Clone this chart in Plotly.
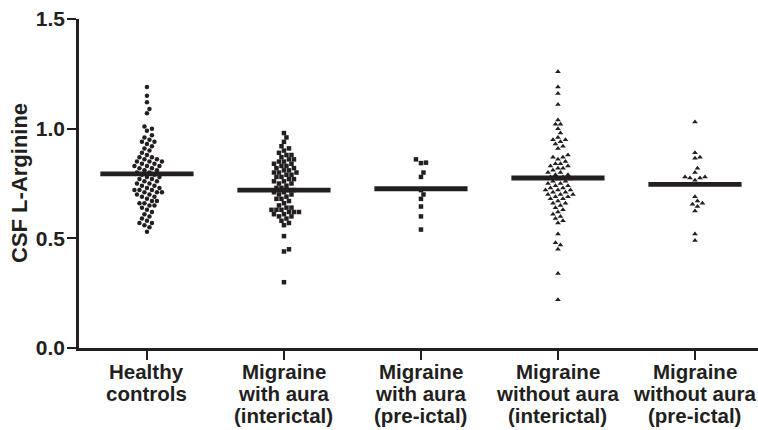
import plotly.graph_objects as go

category_lines = [["Healthy", "controls"],
                  ["Migraine", "with aura", "(interictal)"],
                  ["Migraine", "with aura", "(pre-ictal)"],
                  ["Migraine", "without aura", "(interictal)"],
                  ["Migraine", "without aura", "(pre-ictal)"]]
y_title = "CSF L-Arginine"

healthy = [1.19, 1.15, 1.12, 1.09, 1.07, 1.01, 1.00, 0.99, 0.97, 0.96, 0.95, 0.94, 0.94, 0.93, 0.92,
           0.91, 0.90, 0.89, 0.88, 0.87, 0.87, 0.86, 0.86, 0.85, 0.85, 0.85, 0.84, 0.84, 0.83, 0.83,
           0.83, 0.82, 0.82, 0.81, 0.81, 0.80, 0.80, 0.79, 0.79, 0.78, 0.78, 0.77, 0.77, 0.76, 0.76,
           0.75, 0.75, 0.74, 0.74, 0.73, 0.73, 0.72, 0.72, 0.72, 0.71, 0.71, 0.71, 0.70, 0.70, 0.69,
           0.69, 0.68, 0.67, 0.67, 0.66, 0.66, 0.65, 0.65, 0.64, 0.63, 0.62, 0.61, 0.60, 0.59, 0.58,
           0.57, 0.57, 0.56, 0.55, 0.53]
aura_inter = [0.98, 0.96, 0.94, 0.92, 0.91, 0.90, 0.89, 0.88, 0.88, 0.87, 0.86, 0.86, 0.85, 0.85,
              0.84, 0.84, 0.83, 0.83, 0.82, 0.82, 0.81, 0.81, 0.80, 0.80, 0.80, 0.79, 0.79, 0.78,
              0.78, 0.77, 0.77, 0.76, 0.76, 0.75, 0.75, 0.74, 0.73, 0.73, 0.72, 0.72, 0.71, 0.71,
              0.70, 0.70, 0.69, 0.68, 0.68, 0.67, 0.66, 0.65, 0.64, 0.64, 0.63, 0.63, 0.63, 0.62,
              0.62, 0.62, 0.61, 0.61, 0.60, 0.60, 0.59, 0.58, 0.57, 0.56, 0.51, 0.45, 0.44, 0.30]
aura_pre = [0.86, 0.845, 0.843, 0.80, 0.78, 0.72, 0.70, 0.68, 0.645, 0.60, 0.54]
noaura_inter = [1.26, 1.19, 1.16, 1.11, 1.04, 1.02, 1.02, 1.00, 0.98, 0.96, 0.95, 0.95, 0.94, 0.93,
                0.92, 0.91, 0.88, 0.87, 0.87, 0.86, 0.85, 0.84, 0.84, 0.83, 0.83, 0.82, 0.82, 0.81,
                0.80, 0.80, 0.79, 0.79, 0.78, 0.78, 0.77, 0.77, 0.76, 0.76, 0.75, 0.75, 0.74, 0.74,
                0.73, 0.73, 0.72, 0.72, 0.72, 0.71, 0.71, 0.70, 0.70, 0.70, 0.69, 0.69, 0.68, 0.68,
                0.67, 0.66, 0.66, 0.65, 0.64, 0.63, 0.62, 0.61, 0.60, 0.59, 0.58, 0.57, 0.52, 0.48,
                0.47, 0.45, 0.34, 0.22]
noaura_pre = [1.03, 0.89, 0.87, 0.865, 0.82, 0.80, 0.78, 0.78, 0.775, 0.775, 0.765, 0.69, 0.67,
              0.66, 0.655, 0.645, 0.625, 0.52, 0.49]
group_means = [0.794, 0.72, 0.726, 0.775, 0.746]
y_ticks = [0.0, 0.5, 1.0, 1.5]

groups = [healthy, aura_inter, aura_pre, noaura_inter, noaura_pre]
symbols = ["circle", "square", "square", "triangle-up", "triangle-up"]

W, H = 758, 430
ML, MR, MT, MB = 79, 0, 19, 82
XR = [-0.496, 4.46]
YR = [0, 1.5]
px_per_x = (W - ML - MR) / (XR[1] - XR[0])
px_per_y = (H - MT - MB) / (YR[1] - YR[0])
TXT = "#231f20"
FAM = "Liberation Sans, Arial, sans-serif"


def swarm(vals, center, dmin=5.0):
    placed = []
    xs = {}
    order = sorted(range(len(vals)), key=lambda i: vals[i])
    for i in order:
        yp = vals[i] * px_per_y
        k = 0
        while True:
            cands = [0.0] if k == 0 else [k * dmin * 0.5, -k * dmin * 0.5]
            ok_c = None
            for c in cands:
                if all((c - px) ** 2 + (yp - py) ** 2 >= dmin ** 2 for px, py in placed):
                    ok_c = c
                    break
            if ok_c is not None:
                placed.append((ok_c, yp))
                xs[i] = center + ok_c / px_per_x
                break
            k += 1
    return [xs[i] for i in range(len(vals))]


fig = go.Figure()
for gi, vals in enumerate(groups):
    fig.add_trace(go.Scatter(
        x=swarm(vals, gi), y=vals, mode="markers",
        marker=dict(symbol=symbols[gi], size=4.5 if symbols[gi] != "triangle-up" else 5,
                    color=TXT, line=dict(width=0)),
        showlegend=False, hoverinfo="y"))

for gi, m in enumerate(group_means):
    fig.add_trace(go.Scatter(
        x=[gi - 0.34, gi + 0.34], y=[m, m], mode="lines",
        line=dict(color=TXT, width=4.8), showlegend=False, hoverinfo="y"))

# category labels (one annotation per text line for tight line spacing)
line_shift = [-23, -45, -67]
annotations = []
for gi, lines in enumerate(category_lines):
    for li, t in enumerate(lines):
        annotations.append(dict(
            x=gi, y=0, xref="x", yref="paper", text=t, showarrow=False,
            xanchor="center", yanchor="middle", yshift=line_shift[li],
            font=dict(family=FAM, size=20.5, color=TXT, weight="bold")))

# y-axis title
annotations.append(dict(
    x=0, y=0.5, xref="paper", yref="paper", text=y_title, showarrow=False,
    textangle=-90, xanchor="center", yanchor="middle", xshift=-59.5,
    font=dict(family=FAM, size=22, color=TXT, weight="bold")))

fig.update_layout(
    width=W, height=H,
    margin=dict(l=ML, r=MR, t=MT, b=MB, pad=0),
    plot_bgcolor="white", paper_bgcolor="white",
    annotations=annotations,
    xaxis=dict(range=XR, tickvals=list(range(len(category_lines))), showticklabels=False,
               showgrid=False, zeroline=False, showline=True, linecolor=TXT, linewidth=2.5,
               ticks="outside", ticklen=9, tickwidth=2, tickcolor=TXT),
    yaxis=dict(range=YR, tickvals=y_ticks, ticktext=[f"{v:.1f}" for v in y_ticks],
               showgrid=False, zeroline=False, showline=True, linecolor=TXT, linewidth=2.5,
               ticks="outside", ticklen=9, tickwidth=2, tickcolor=TXT,
               tickfont=dict(family=FAM, size=21, color=TXT, weight="bold"),
               ticklabelstandoff=-2),
)

fig.write_html("out.html", config={"displayModeBar": False},
               post_script="document.body.style.margin='0';document.body.style.overflow='hidden';")
